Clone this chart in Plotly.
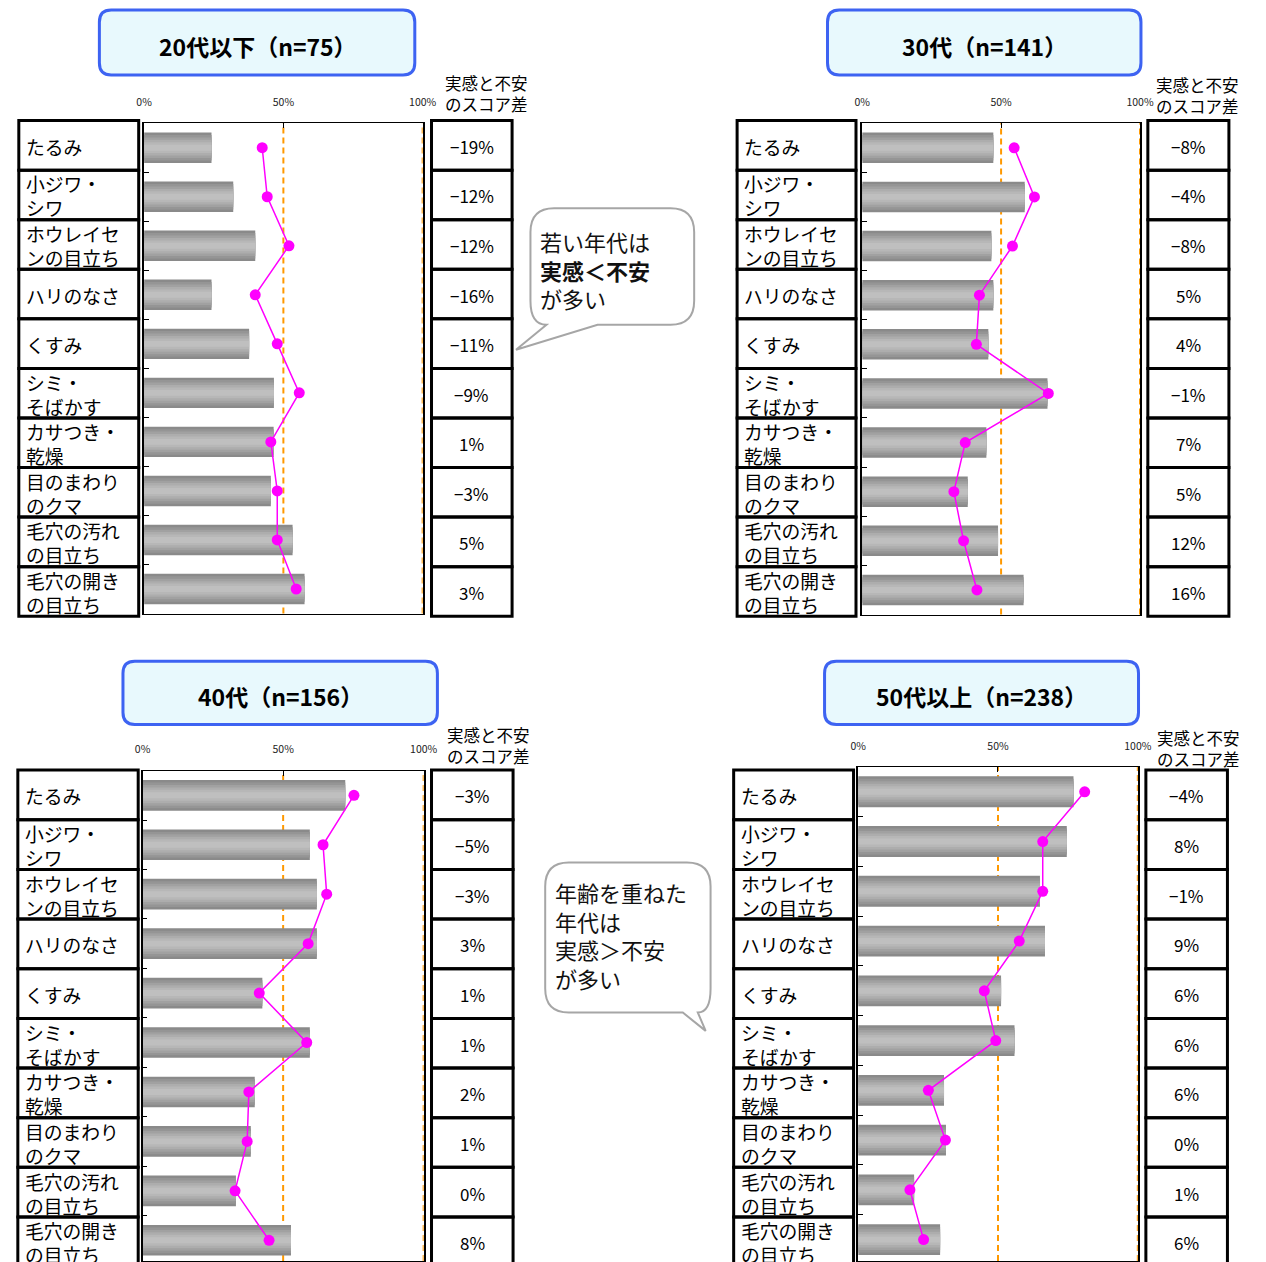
import plotly.graph_objects as go

W, H = 1266, 1262
FONT = "Noto Sans CJK JP, sans-serif"

# ---------------- data ----------------
categories = ["たるみ", "小ジワ・シワ", "ホウレイセンの目立ち", "ハリのなさ", "くすみ",
              "シミ・そばかす", "カサつき・乾燥", "目のまわりのクマ", "毛穴の汚れの目立ち", "毛穴の開きの目立ち"]
category_labels = ["たるみ", "小ジワ・<br>シワ", "ホウレイセ<br>ンの目立ち", "ハリのなさ", "くすみ",
                   "シミ・<br>そばかす", "カサつき・<br>乾燥", "目のまわり<br>のクマ", "毛穴の汚れ<br>の目立ち", "毛穴の開き<br>の目立ち"]

titles = ["20代以下（n=75）", "30代（n=141）", "40代（n=156）", "50代以上（n=238）"]

# 実感 (bars) and 不安 (line) in %
jikkan_20 = [24.2, 32.0, 39.9, 24.2, 37.7, 46.6, 46.5, 45.5, 53.3, 57.6]
fuan_20 = [42.4, 44.2, 52.0, 39.9, 47.8, 55.7, 45.5, 47.8, 47.8, 54.6]
diff_20 = ["−19%", "−12%", "−12%", "−16%", "−11%", "−9%", "1%", "−3%", "5%", "3%"]

jikkan_30 = [47.2, 58.5, 46.5, 47.2, 45.4, 66.7, 44.7, 38.0, 48.9, 58.1]
fuan_30 = [54.7, 62.0, 54.1, 42.2, 41.1, 67.0, 37.1, 33.0, 36.5, 41.3]
diff_30 = ["−8%", "−4%", "−8%", "5%", "4%", "−1%", "7%", "5%", "12%", "16%"]

jikkan_40 = [72.1, 59.5, 62.0, 62.0, 42.6, 59.5, 39.9, 38.5, 33.2, 52.8]
fuan_40 = [75.2, 64.2, 65.5, 58.9, 41.5, 58.4, 37.8, 37.2, 32.9, 45.0]
diff_40 = ["−3%", "−5%", "−3%", "3%", "1%", "1%", "2%", "1%", "0%", "8%"]

jikkan_50 = [77.0, 74.6, 65.0, 66.8, 51.1, 55.9, 30.7, 31.4, 20.0, 29.3]
fuan_50 = [81.0, 66.0, 66.0, 57.6, 45.1, 49.2, 25.1, 31.2, 18.5, 23.4]
diff_50 = ["−4%", "8%", "−1%", "9%", "6%", "6%", "6%", "0%", "1%", "6%"]

tick_vals = [0, 50, 100]
tick_text = ["0%", "50%", "100%"]
header_text = "実感と不安<br>のスコア差"
bubble1_text = "若い年代は<br><b>実感＜不安</b><br>が多い"
bubble2_text = "年齢を重ねた<br>年代は<br>実感＞不安<br>が多い"

series = [(jikkan_20, fuan_20, diff_20), (jikkan_30, fuan_30, diff_30),
          (jikkan_40, fuan_40, diff_40), (jikkan_50, fuan_50, diff_50)]

# ---------------- layout geometry (px) ----------------
geom = [
    dict(tbox=(93, 10, 414, 75), tpos=(254, 46), hpos=(487, 93.5), lcol=(11, 133),
         rows=(120.7, 616.7), rcol=(431, 513), plot=(138.5, 123.3, 422, 614)),
    dict(tbox=(834, 10, 1153, 75), tpos=(993.5, 46), hpos=(1211, 95.8), lcol=(742, 863),
         rows=(120.7, 616.7), rcol=(1160, 1242.5), plot=(869.3, 123.3, 1152, 615)),
    dict(tbox=(117, 661.7, 437, 725), tpos=(277.5, 696.7), hpos=(489, 745.8), lcol=(10, 132.5),
         rows=(770.7, 1267.7), rcol=(431, 514), plot=(137, 771.2, 423, 1266)),
    dict(tbox=(831, 661.7, 1150.5, 725), tpos=(990.5, 696.7), hpos=(1212, 748.7), lcol=(738.5, 860.5),
         rows=(770.7, 1267.7), rcol=(1158, 1241), plot=(865.2, 767.5, 1149.8, 1265.5)),
]

def fx(x):
    return x / W

def fy(y):
    return 1 - y / H

def P(x, y):
    return f"{fx(x):.5f},{fy(y):.5f}"

def rrect(x0, y0, x1, y1, r):
    return (f"M{P(x0 + r, y0)} L{P(x1 - r, y0)} Q{P(x1, y0)} {P(x1, y0 + r)} "
            f"L{P(x1, y1 - r)} Q{P(x1, y1)} {P(x1 - r, y1)} L{P(x0 + r, y1)} "
            f"Q{P(x0, y1)} {P(x0, y1 - r)} L{P(x0, y0 + r)} Q{P(x0, y0)} {P(x0 + r, y0)} Z")

bar_layers = [(0.62, "#8a8a8a"), (0.52, "#959595"), (0.42, "#a1a1a1"),
              (0.32, "#adadad"), (0.22, "#b7b7b7"), (0.12, "#bfbfbf")]

fig = go.Figure()
layout = dict(width=W, height=H, margin=dict(l=0, r=0, t=0, b=0),
              paper_bgcolor="white", plot_bgcolor="white", barmode="overlay",
              showlegend=False, font=dict(family=FONT, color="black"))
shapes = []
annotations = []

for i, (g, (jk, fu, df), title) in enumerate(zip(geom, series, titles)):
    xn = "x" if i == 0 else f"x{i + 1}"
    yn = "y" if i == 0 else f"y{i + 1}"
    xk = "xaxis" if i == 0 else f"xaxis{i + 1}"
    yk = "yaxis" if i == 0 else f"yaxis{i + 1}"
    x0, t, x1, b = g["plot"]
    n = len(categories)
    if b > H:
        ybot = H
        rb = -0.5 + (H - t) / (b - t) * n
    else:
        ybot = b
        rb = n - 0.5
    layout[xk] = dict(domain=[fx(x0), fx(x1)], range=[0, 100], side="top", anchor=yn,
                      tickvals=tick_vals, ticktext=tick_text, ticks="inside", ticklen=5,
                      tickcolor="black", tickfont=dict(size=10.5, family=FONT, color="#222"),
                      ticklabelstandoff=12, showline=True, linecolor="black", linewidth=1,
                      mirror=True, showgrid=False, zeroline=False, fixedrange=True)
    layout[yk] = dict(domain=[max(0, fy(ybot)), fy(t)], type="category", categoryorder="array",
                      categoryarray=categories, range=[rb, -0.5], anchor=xn,
                      showticklabels=False, ticks="inside", tickson="boundaries", ticklen=5,
                      tickcolor="black", showline=True, linecolor="black", linewidth=1.5,
                      mirror=True, showgrid=False, zeroline=False, fixedrange=True)

    for w, c in bar_layers:
        fig.add_trace(go.Bar(x=jk, y=categories, orientation="h", width=w,
                             marker=dict(color=c, line=dict(width=0)),
                             xaxis=xn, yaxis=yn, hoverinfo="skip"))
    fig.add_trace(go.Scatter(x=fu, y=categories, mode="lines+markers",
                             line=dict(color="#ff00ff", width=1.5),
                             marker=dict(color="#ff00ff", size=11),
                             xaxis=xn, yaxis=yn, hoverinfo="skip"))

    # 50% / 100% orange dotted lines
    for xv in (50, 100):
        shapes.append(dict(type="line", xref=xn, yref=f"{yn} domain", x0=xv, x1=xv, y0=0, y1=1,
                           line=dict(color="#ff9900", width=2, dash="6px,4px"), layer="below"))

    # title box
    bx0, by0, bx1, by1 = g["tbox"]
    shapes.append(dict(type="path", xref="paper", yref="paper", path=rrect(bx0, by0, bx1, by1, 12),
                       line=dict(color="#3d63f2", width=3), fillcolor="#e8f9fd", layer="above"))
    annotations.append(dict(text=f"<b>{title}</b>", x=fx(g["tpos"][0]), y=fy(g["tpos"][1]),
                            xref="paper", yref="paper", showarrow=False, xanchor="center",
                            yanchor="middle", font=dict(size=23, family=FONT, color="black")))
    # header
    annotations.append(dict(text=header_text, x=fx(g["hpos"][0]), y=fy(g["hpos"][1]),
                            xref="paper", yref="paper", showarrow=False, xanchor="center",
                            yanchor="middle", borderpad=0,
                            font=dict(size=16.5, family=FONT, color="black")))

    # label & value cells
    r0, r1 = g["rows"]
    rh = (r1 - r0) / n
    lx0, lx1 = g["lcol"]
    vx0, vx1 = g["rcol"]
    for k in range(n):
        ct = r0 + k * rh
        cb = ct + rh
        for (a0, a1) in ((lx0, lx1), (vx0, vx1)):
            shapes.append(dict(type="rect", xref="paper", yref="paper",
                               x0=fx(a0), x1=fx(a1), y0=fy(cb), y1=fy(ct),
                               line=dict(color="black", width=3), fillcolor="rgba(0,0,0,0)"))
        cy = (ct + cb) / 2 + 1
        annotations.append(dict(text=category_labels[k], x=fx(lx0 + 5), y=fy(cy),
                                xref="paper", yref="paper", showarrow=False, xanchor="left",
                                yanchor="middle", align="left",
                                font=dict(size=18.8, family=FONT, color="black")))
        annotations.append(dict(text=df[k], x=fx((vx0 + vx1) / 2), y=fy(cy),
                                xref="paper", yref="paper", showarrow=False, xanchor="center",
                                yanchor="middle", font=dict(size=17, family=FONT, color="black")))

# speech bubbles
r = 24
x0, y0, x1, y1 = (531.7, 208.3, 698.3, 325)
path1 = (f"M{P(x0 + r, y0)} L{P(x1 - r, y0)} Q{P(x1, y0)} {P(x1, y0 + r)} L{P(x1, y1 - r)} "
         f"Q{P(x1, y1)} {P(x1 - r, y1)} L{P(600, y1)} L{P(517, 350)} L{P(548, y1)} "
         f"Q{P(x0, y1)} {P(x0, y1 - r)} L{P(x0, y0 + r)} Q{P(x0, y0)} {P(x0 + r, y0)} Z")
shapes.append(dict(type="path", xref="paper", yref="paper", path=path1,
                   line=dict(color="#a6a6a6", width=2), fillcolor="white", layer="above"))
annotations.append(dict(text=bubble1_text, x=fx(539), y=fy(269.5), xref="paper", yref="paper",
                        showarrow=False, xanchor="left", yanchor="middle", align="left",
                        font=dict(size=22, family=FONT, color="#111")))

x0, y0, x1, y1 = (546.7, 863.3, 715, 1013.3)
path2 = (f"M{P(x0 + r, y0)} L{P(x1 - r, y0)} Q{P(x1, y0)} {P(x1, y0 + r)} L{P(x1, y1 - r)} "
         f"Q{P(x1, y1)} {P(702, y1)} L{P(710, 1031.7)} L{P(686.7, y1)} L{P(x0 + r, y1)} "
         f"Q{P(x0, y1)} {P(x0, y1 - r)} L{P(x0, y0 + r)} Q{P(x0, y0)} {P(x0 + r, y0)} Z")
shapes.append(dict(type="path", xref="paper", yref="paper", path=path2,
                   line=dict(color="#a6a6a6", width=2), fillcolor="white", layer="above"))
annotations.append(dict(text=bubble2_text, x=fx(555), y=fy(936), xref="paper", yref="paper",
                        showarrow=False, xanchor="left", yanchor="middle", align="left",
                        font=dict(size=22, family=FONT, color="#111")))

layout["shapes"] = shapes
layout["annotations"] = annotations
fig.update_layout(**layout)

fig.write_html("out.html", config={"displayModeBar": False},
               post_script="document.documentElement.style.overflow='hidden';"
                           "document.body.style.margin='0';document.body.style.overflow='hidden';")
